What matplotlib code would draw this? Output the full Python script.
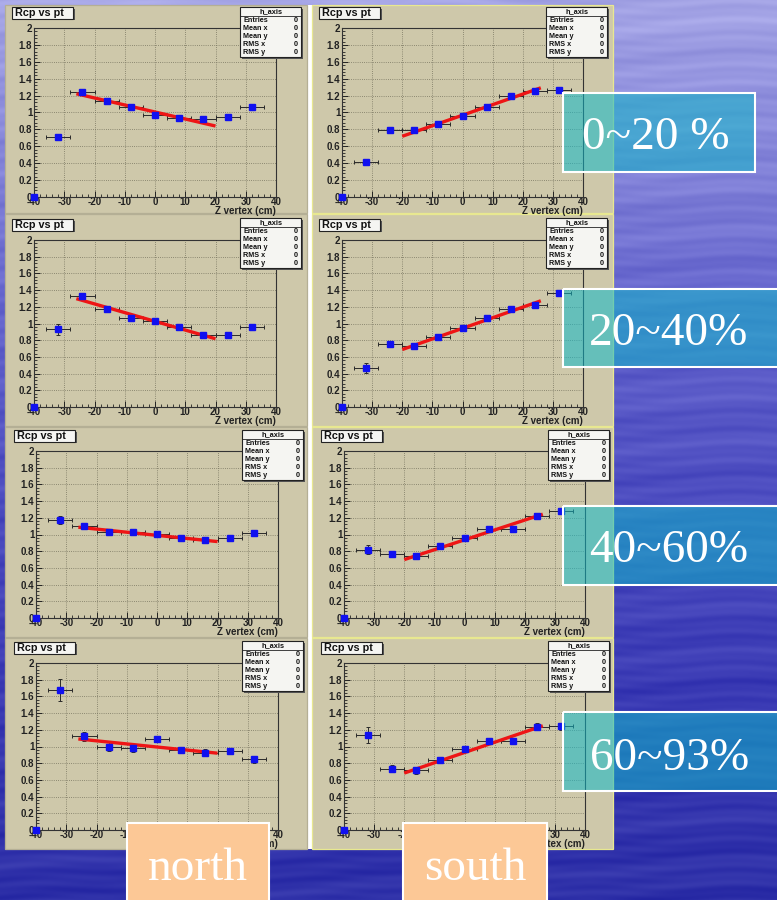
import numpy as np
import matplotlib
matplotlib.use("Agg")
import matplotlib.pyplot as plt
from matplotlib.patches import Rectangle
from matplotlib.ticker import MultipleLocator, FuncFormatter

# ---------------------------------------------------------------- data
z_centers = [-40, -32, -24, -16, -8, 0, 8, 16, 24, 32]
z_half_width = 4.0

# Rcp per z-vertex bin, one row per centrality class
north_rcp = [
    [0.0, 0.71, 1.24, 1.14, 1.07, 0.97, 0.94, 0.92, 0.945, 1.07],
    [0.0, 0.93, 1.33, 1.17, 1.07, 1.03, 0.96, 0.865, 0.857, 0.96],
    [0.0, 1.17, 1.10, 1.03, 1.03, 1.01, 0.96, 0.934, 0.954, 1.02],
    [0.0, 1.68, 1.12, 1.00, 0.98, 1.09, 0.96, 0.927, 0.946, 0.848],
]
north_err = [
    [0.0, 0.03, 0.02, 0.02, 0.02, 0.02, 0.02, 0.02, 0.02, 0.02],
    [0.0, 0.07, 0.03, 0.03, 0.02, 0.02, 0.02, 0.02, 0.02, 0.02],
    [0.0, 0.05, 0.02, 0.02, 0.02, 0.02, 0.02, 0.02, 0.02, 0.02],
    [0.0, 0.13, 0.05, 0.05, 0.04, 0.04, 0.04, 0.04, 0.04, 0.04],
]
south_rcp = [
    [0.0, 0.42, 0.79, 0.79, 0.86, 0.96, 1.07, 1.19, 1.25, 1.27],
    [0.0, 0.465, 0.755, 0.735, 0.835, 0.946, 1.066, 1.17, 1.225, 1.364],
    [0.0, 0.82, 0.772, 0.74, 0.86, 0.958, 1.06, 1.07, 1.224, 1.28],
    [0.0, 1.137, 0.733, 0.713, 0.84, 0.97, 1.065, 1.065, 1.236, 1.24],
]
south_err = [
    [0.0, 0.03, 0.02, 0.02, 0.02, 0.02, 0.02, 0.02, 0.02, 0.02],
    [0.0, 0.06, 0.03, 0.03, 0.02, 0.02, 0.02, 0.02, 0.02, 0.02],
    [0.0, 0.05, 0.02, 0.02, 0.02, 0.02, 0.02, 0.02, 0.02, 0.02],
    [0.0, 0.10, 0.04, 0.04, 0.04, 0.04, 0.04, 0.04, 0.04, 0.04],
]

# linear fits p0 + p1*z
north_fit_p0 = [1.006, 1.026, 0.990, 0.994]
north_fit_p1 = [-0.0083, -0.01044, -0.00374, -0.0037]
south_fit_p0 = [0.968, 0.942, 0.936, 0.928]
south_fit_p1 = [0.01247, 0.01269, 0.01183, 0.01231]
north_fit_range = [-26, 20]
south_fit_range = [-20, 26]

centrality_labels = ["0~20 %", "20~40%", "40~60%", "60~93%"]
side_labels = ["north", "south"]
panel_title = "Rcp vs pt"
stats_title = "h_axis"
stats_names = ["Entries", "Mean x", "Mean y", "RMS x", "RMS y"]
stats_values = [0, 0, 0, 0, 0]
x_axis_title = "Z vertex (cm)"

# ---------------------------------------------------------------- layout (pixels)
W, H = 777, 900
DPI = 100
CANVAS = "#cec8aa"

col_canvas_x = [(5, 307), (312, 613)]
row_canvas_y = [(5, 213), (214, 426), (427, 637), (638, 849)]
frame_x = [(34, 276), (342, 583)]
frame_y = [(28, 197), (240, 407), (451, 618), (663, 830)]
row_dx = [0, 0, 2, 2]
title_top = [7, 219, 430, 642]
stats_top = [7, 218, 430, 641]

label_boxes = [(563, 93, 755, 172), (563, 289, 780, 367),
               (563, 506, 780, 585), (563, 712, 780, 791)]
label_baseline = [149, 345, 562, 770]
label_cx = [656, 669, 669, 670]
side_boxes = [(127, 823, 269, 905), (403, 823, 547, 905)]
side_cx = [198, 475]
side_baseline = 880

plt.rcParams["font.family"] = ["Liberation Sans", "DejaVu Sans"]
plt.rcParams["font.weight"] = "bold"

fig = plt.figure(figsize=(W / DPI, H / DPI), dpi=DPI)


def rect_frac(x0, y0, x1, y1):
    return [x0 / W, 1 - y1 / H, (x1 - x0) / W, (y1 - y0) / H]


# ---------------------------------------------------------------- slide background
bg = fig.add_axes([0, 0, 1, 1], zorder=0)
bg.set_xlim(0, W)
bg.set_ylim(H, 0)
bg.axis("off")

yy, xx = np.mgrid[0:H, 0:W].astype(float)
stops_y = np.array([0, 120, 300, 500, 700, 900], float)
stops_c = np.array([[165, 165, 230], [140, 140, 220], [102, 102, 206],
                    [76, 76, 192], [58, 58, 180], [46, 48, 168]], float)
img = np.empty((H, W, 3))
for k in range(3):
    img[..., k] = np.interp(yy[:, 0], stops_y, stops_c[:, k])[:, None] * np.ones((1, W))
wave = (5 * np.sin(2 * np.pi * (yy / 21 + 0.35 * np.sin(2 * np.pi * xx / 330)))
        + 4 * np.sin(2 * np.pi * (yy / 53 + xx / 870))
        + 3 * np.sin(2 * np.pi * (yy / 9 + 0.2 * np.sin(2 * np.pi * xx / 140))))
img += wave[..., None] * np.array([1.0, 1.0, 0.6])
img = np.clip(img, 0, 255) / 255.0
bg.imshow(img, extent=(0, W, H, 0), aspect="auto", interpolation="bilinear")

# white gap between the two canvas columns
bg.add_patch(Rectangle((306, 5), 7, 844, facecolor="white", edgecolor="none"))
for c, (cx0, cx1) in enumerate(col_canvas_x):
    for r, (cy0, cy1) in enumerate(row_canvas_y):
        bg.add_patch(Rectangle((cx0, cy0), cx1 - cx0, cy1 - cy0,
                               facecolor=CANVAS,
                               edgecolor="#e8e890" if c == 1 else "#b4af95",
                               lw=0.9))

# ---------------------------------------------------------------- panels
ov = fig.add_axes([0, 0, 1, 1], zorder=10)
ov.set_xlim(0, W)
ov.set_ylim(H, 0)
ov.axis("off")
ov.patch.set_alpha(0)

fmt = FuncFormatter(lambda v, p: f"{v:g}")

for r in range(4):
    for c in range(2):
        if c == 0:
            rcp, err = north_rcp[r], north_err[r]
            p0, p1, frange = north_fit_p0[r], north_fit_p1[r], north_fit_range
        else:
            rcp, err = south_rcp[r], south_err[r]
            p0, p1, frange = south_fit_p0[r], south_fit_p1[r], south_fit_range
        fx0, fx1 = frame_x[c]
        fy0, fy1 = frame_y[r]
        dx = row_dx[r]
        ax = fig.add_axes(rect_frac(fx0 + dx, fy0, fx1 + dx, fy1), zorder=5)
        ax.set_facecolor(CANVAS)
        ax.set_xlim(-40, 40)
        ax.set_ylim(0, 2)
        ax.xaxis.set_major_locator(MultipleLocator(10))
        ax.xaxis.set_minor_locator(MultipleLocator(2))
        ax.yaxis.set_major_locator(MultipleLocator(0.2))
        ax.yaxis.set_minor_locator(MultipleLocator(0.04))
        ax.xaxis.set_major_formatter(fmt)
        ax.yaxis.set_major_formatter(fmt)
        ax.grid(which="major", color="#77745f", ls=(0, (1, 1.6)), lw=0.6)
        ax.set_axisbelow(True)
        ax.tick_params(which="both", direction="in", top=False, right=False,
                       labelsize=7, colors="#222222")
        ax.tick_params(axis="x", pad=0.2)
        ax.tick_params(axis="y", pad=1.2)
        ax.tick_params(which="major", length=4.0, width=0.7)
        ax.tick_params(which="minor", length=2.0, width=0.6)
        for s in ax.spines.values():
            s.set_color("#333333")
            s.set_linewidth(0.8)

        z = np.array(z_centers, float)
        y = np.array(rcp, float)
        e = np.array(err, float)
        m = y > 0
        ax.errorbar(z[m], y[m], xerr=z_half_width, yerr=e[m], fmt="none",
                    ecolor="#2a2a2a", elinewidth=0.7, capsize=1.3,
                    capthick=0.7, zorder=3)
        fz = np.array(frange, float)
        ax.plot(fz, p0 + p1 * fz, color="#ee1515", lw=2.4, zorder=4,
                solid_capstyle="butt")
        ax.plot(z, y, "s", color="#1010f0", ms=4.5, zorder=5, clip_on=False)

        ax.annotate(x_axis_title, xy=(1, 0), xycoords="axes fraction",
                    xytext=(0, -10.3), textcoords="offset points",
                    ha="right", va="center", fontsize=7.0, color="#222222")

        # title box
        cx0 = col_canvas_x[c][0] + dx
        tt = title_top[r]
        ov.add_patch(Rectangle((cx0 + 8.5, tt + 1.5), 61, 11.5,
                               facecolor="#555555", edgecolor="none", zorder=1))
        ov.add_patch(Rectangle((cx0 + 7, tt), 61, 11.5, facecolor="#f5f5f2",
                               edgecolor="#222222", lw=0.8, zorder=2))
        ov.text(cx0 + 10, tt + 6, panel_title, fontsize=7.8, ha="left",
                va="center", color="#111111", zorder=3)

        # stats box
        sx1 = col_canvas_x[c][1] - 6 + dx
        sx0 = sx1 - 61
        st = stats_top[r]
        ov.add_patch(Rectangle((sx0 + 1.5, st + 1.5), 61, 50,
                               facecolor="#555555", edgecolor="none", zorder=1))
        ov.add_patch(Rectangle((sx0, st), 61, 50, facecolor="#f5f5f2",
                               edgecolor="#222222", lw=0.8, zorder=2))
        ov.plot([sx0, sx0 + 61], [st + 9, st + 9], color="#222222", lw=0.6,
                zorder=3)
        ov.text(sx0 + 30.5, st + 4.5, stats_title, fontsize=5.3, ha="center",
                va="center", color="#111111", zorder=3)
        for i, (nm, val) in enumerate(zip(stats_names, stats_values)):
            yrow = st + 13.5 + 8.1 * i
            ov.text(sx0 + 3, yrow, nm, fontsize=5.2, ha="left", va="center",
                    color="#111111", zorder=3)
            ov.text(sx0 + 58, yrow, f"{val:g}", fontsize=5.2, ha="right",
                    va="center", color="#111111", zorder=3)

# ---------------------------------------------------------------- slide labels
for (x0, y0, x1, y1), lab, bl, cx in zip(label_boxes, centrality_labels,
                                         label_baseline, label_cx):
    ov.add_patch(Rectangle((x0, y0), x1 - x0, y1 - y0, facecolor="#10b8c8",
                           alpha=0.55, edgecolor="none", zorder=20))
    ov.add_patch(Rectangle((x0, y0), x1 - x0, y1 - y0, facecolor="none",
                           edgecolor="white", lw=1.5, zorder=21))
    ov.text(cx, bl, lab, fontsize=34, family=["Liberation Serif", "DejaVu Serif"],
            weight="normal", color="white", ha="center", va="baseline", zorder=22)

for (x0, y0, x1, y1), lab, cx in zip(side_boxes, side_labels, side_cx):
    ov.add_patch(Rectangle((x0, y0), x1 - x0, y1 - y0, facecolor="#fcc896",
                           edgecolor="white", lw=1.5, zorder=20))
    ov.text(cx, side_baseline, lab, fontsize=34,
            family=["Liberation Serif", "DejaVu Serif"], weight="normal",
            color="white", ha="center", va="baseline", zorder=22)

fig.savefig("out.png", dpi=DPI)
